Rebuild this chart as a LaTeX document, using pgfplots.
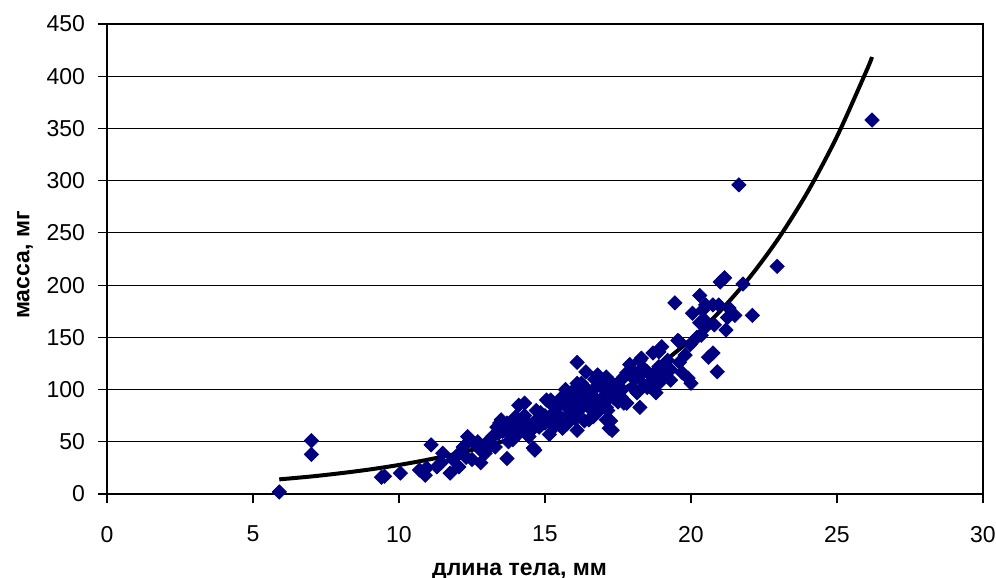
\documentclass[border=0pt]{standalone}
\usepackage{fontspec}
\setmainfont{Liberation Sans}
\usepackage{pgfplots}
\pgfplotsset{compat=1.18}
\definecolor{navymark}{RGB}{0,0,128}

\begin{document}
\begin{tikzpicture}
\useasboundingbox (-53.5pt,-42pt) rectangle (444.5pt,247pt);
\begin{axis}[
    scale only axis,
    width=438pt, height=235pt,
    xmin=0, xmax=30, ymin=0, ymax=450,
    xtick={0,5,10,15,20,25,30},
    ytick={0,50,100,150,200,250,300,350,400,450},
    tick align=outside,
    major tick length=4.5pt,
    tick style={black, line width=0.6pt},
    xtick pos=bottom, ytick pos=left,
    ymajorgrids,
    grid style={black, line width=0.4pt},
    axis line style={black, line width=0.8pt},
    /pgf/number format/assume math mode=true,
    ticklabel style={font=\fontsize{11.5}{13}\selectfont},
    xticklabel style={yshift=-8pt},
    yticklabel style={xshift=-3pt},
    xlabel={длина тела, мм},
    ylabel={масса, мг},
    label style={font=\fontsize{11.5}{13}\selectfont\bfseries},
    xlabel style={at={(axis description cs:0.471,0)}, anchor=base, yshift=-40.5pt},
    ylabel style={at={(axis description cs:-0.0936,0.487)}, anchor=center, rotate=0},
]
% measured points
\addplot[only marks, mark=square*, mark size=2.5pt,
         mark options={rotate=45, fill=navymark, draw=navymark}] coordinates {
(5.9,2) (7.0,51) (7.0,38) (9.4,16) (9.5,17) (10.05,20) (10.7,23) (10.9,18)
(10.95,25) (11.1,47) (11.3,26) (11.45,30) (11.5,39) (11.75,20) (11.85,33)
(12.05,26) (12.1,40) (12.2,45) (12.3,35) (12.35,55) (12.45,52) (12.5,33)
(12.6,48) (12.8,42) (12.8,30) (12.95,39) (13.0,47) (13.05,44) (13.2,55)
(13.3,45) (13.35,64) (13.45,68) (13.5,71) (13.55,60) (13.6,61) (13.7,68)
(13.7,34) (13.75,50) (13.8,58) (13.9,52) (13.9,55) (14.0,61) (14.0,64)
(14.0,74) (14.1,85) (14.2,70) (14.25,64) (14.3,87) (14.4,68) (14.45,55)
(14.5,60) (14.6,44) (14.65,42) (14.7,80) (14.75,72) (14.8,64) (14.9,67)
(15.0,75) (15.05,90) (15.1,71) (15.15,57) (15.2,90) (15.3,78) (15.35,65)
(15.4,83) (15.5,70) (15.6,63) (15.65,88) (15.7,100) (15.75,83) (15.8,71)
(15.85,77) (15.9,95) (15.95,97) (16.0,85) (16.1,126) (16.1,106) (16.1,78)
(16.1,61) (16.2,92) (16.25,106) (16.3,93) (16.35,70) (16.4,117) (16.45,100)
(16.5,83) (16.5,71) (16.55,90) (16.65,100) (16.65,74) (16.7,110) (16.8,114)
(16.8,78) (16.9,87) (16.95,106) (17.0,93) (17.0,102) (17.1,83) (17.1,112)
(17.1,71) (17.15,80) (17.2,63) (17.2,93) (17.25,70) (17.3,61) (17.3,106)
(17.4,98) (17.5,88) (17.6,109) (17.6,93) (17.7,112) (17.7,87) (17.8,116)
(17.8,87) (17.9,124) (17.95,119) (18.0,102) (18.15,97) (18.2,112) (18.25,128)
(18.25,83) (18.3,130) (18.4,104) (18.5,117) (18.5,102) (18.6,106) (18.7,135)
(18.8,97) (18.85,119) (18.9,136) (18.9,122) (18.9,106) (19.0,141) (19.1,114)
(19.3,119) (19.3,109) (19.45,183) (19.55,147) (19.6,126) (19.6,146) (19.7,116)
(19.9,111) (19.97,143) (20.0,106) (20.05,173) (20.2,150) (20.3,190) (20.3,164)
(20.35,152) (20.4,176) (20.45,167) (20.5,181) (20.5,160) (20.6,131) (20.75,135)
(20.75,181) (20.8,162) (20.9,117) (20.95,181) (21.0,203) (21.15,207) (21.2,157)
(21.25,169) (21.3,178) (21.5,171) (21.64,296) (21.78,201) (22.1,171)
(22.95,218) (26.2,358)
(12.7,50) (13.1,52) (13.4,58) (13.6,66) (13.85,62) (14.1,58) (14.3,75)
(14.55,66) (14.85,78) (15.0,68) (15.25,85) (15.45,76) (15.55,92) (15.75,67)
(16.0,100) (16.05,72) (16.3,85) (16.4,98) (16.6,95) (16.75,88) (16.85,104)
(17.05,88) (17.35,92) (17.5,102) (17.65,100) (18.05,110) (18.35,121)
(18.7,110) (19.2,128) (19.8,133)
};
% exponential trend line
\addplot[black, line width=2pt, smooth] coordinates {
(5.9,14.0) (7,16.8) (8,19.9) (9,23.5) (10,27.8) (11,32.9) (12,38.8)
(13,45.9) (14,54.3) (15,64.2) (16,75.9) (17,89.7) (18,106.0) (19,125.3)
(20,148.1) (21,175.2) (22,207.1) (23,244.9) (24,289.5) (25,342.3)
(26,404.6) (26.2,418.4)
};
\end{axis}
\end{tikzpicture}
\end{document}
